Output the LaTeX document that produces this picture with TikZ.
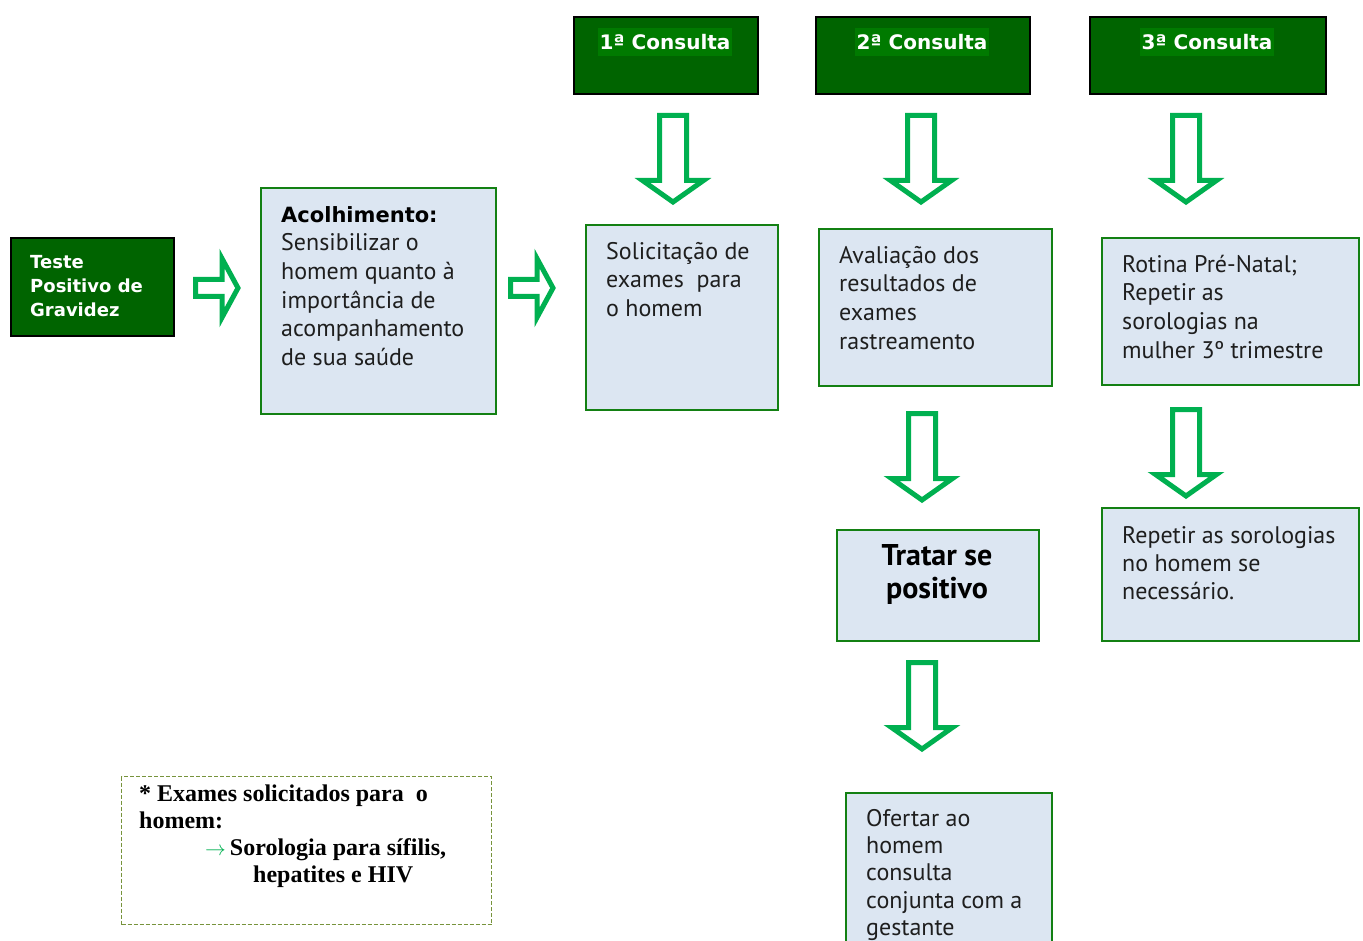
\documentclass[tikz,border=0pt]{standalone}
\usepackage{fontspec}
\setmainfont{PT Sans}
\newfontfamily\headfont{DejaVu Sans}
\newfontfamily\notefont{Liberation Serif}
\newcommand{\tstrut}{\rule{0pt}{22pt}}

\definecolor{darkgreen}{RGB}{0,100,0}
\definecolor{hlgreen}{RGB}{0,122,0}
\definecolor{boxblue}{RGB}{220,230,242}
\definecolor{boxline}{RGB}{19,128,19}
\definecolor{arrowgreen}{RGB}{0,176,80}
\definecolor{noteline}{RGB}{119,147,60}
\definecolor{txtgray}{RGB}{30,30,30}

\tikzset{
  darkbox/.style={draw=black, line width=2pt, fill=darkgreen, anchor=north west, inner sep=0},
  bluebox/.style={draw=boxline, line width=2pt, fill=boxblue, anchor=north west, inner sep=0},
  bodytext/.style={anchor=north west, inner sep=0, align=left, text=txtgray, font=\fontsize{24}{28.7}\selectfont},
  headtext/.style={text=white, fill=hlgreen, inner xsep=1.5pt, inner ysep=1pt, text height=21pt, text depth=5pt, font=\headfont\bfseries\fontsize{20}{24}\selectfont},
  arrowline/.style={draw=arrowgreen, fill=white, line width=5pt},
  darrow/.pic={\path[arrowline] (-13.5,2.5) -- (13.5,2.5) -- (13.5,67.5) -- (30.5,67.5) -- (0,89) -- (-30.5,67.5) -- (-13.5,67.5) -- cycle;},
  harrow/.pic={\path[arrowline] (2.5,-8.5) -- (29,-8.5) -- (29,-29.5) -- (45,0) -- (29,29.5) -- (29,8.5) -- (2.5,8.5) -- cycle;}
}

\begin{document}
\begin{tikzpicture}[x=1pt, y=-1pt]
\useasboundingbox (0,0) rectangle (1363,941);

% start
\node[darkbox, minimum width=163, minimum height=98] (teste) at (10,237) {};
\node[anchor=north west, inner sep=0, align=left, text=white, font=\headfont\bfseries\fontsize{18}{24}\selectfont] (teste-txt) at (30,246) {\tstrut Teste\\Positivo de\\Gravidez};

\pic at (193,288) {harrow};

\node[bluebox, minimum width=235, minimum height=226] (acolh) at (260,187) {};
\node[bodytext] (acolh-txt) at (281,200) {\tstrut{\headfont\bfseries\fontsize{21}{28.7}\selectfont\color{black}Acolhimento:}\\Sensibilizar o\\homem quanto à\\importância de\\acompanhamento\\de sua saúde};

\pic at (508,288) {harrow};

% consultas
\node[darkbox, minimum width=184, minimum height=77] (c1) at (573,16) {};
\node[headtext] (c1-txt) at (665,42) {1ª Consulta};
\node[darkbox, minimum width=214, minimum height=77] (c2) at (815,16) {};
\node[headtext] (c2-txt) at (922,42) {2ª Consulta};
\node[darkbox, minimum width=236, minimum height=77] (c3) at (1089,16) {};
\node[headtext] (c3-txt) at (1207,42) {3ª Consulta};

\pic at (673,113) {darrow};
\pic at (921,113) {darrow};
\pic at (1186,113) {darrow};

% 1a
\node[bluebox, minimum width=192, minimum height=185] (solic) at (585,224) {};
\node[bodytext] (solic-txt) at (606,237) {\tstrut Solicitação de\\exames\ \ para\\o homem};

% 2a
\node[bluebox, minimum width=233, minimum height=157] (aval) at (818,228) {};
\node[bodytext] (aval-txt) at (839,241) {\tstrut Avaliação dos\\resultados de\\exames\\rastreamento};

\pic at (922,411) {darrow};

\node[bluebox, minimum width=202, minimum height=111] (tratar) at (836,529) {};
\node[anchor=north, inner sep=0, align=center, font=\bfseries\fontsize{30}{33}\selectfont] (tratar-txt) at (937,543) {\tstrut Tratar se\\positivo};

\pic at (922,660) {darrow};

\node[bluebox, minimum width=206, minimum height=170] (ofertar) at (845,792) {};
\node[bodytext, font=\fontsize{24}{27.3}\selectfont] (ofertar-txt) at (866,804) {\tstrut Ofertar ao\\homem\\consulta\\conjunta com a\\gestante};

% 3a
\node[bluebox, minimum width=257, minimum height=147] (rotina) at (1101,237) {};
\node[bodytext] (rotina-txt) at (1122,250) {\tstrut Rotina Pré-Natal;\\Repetir as\\sorologias na\\mulher 3º trimestre};

\pic at (1186,407) {darrow};

\node[bluebox, minimum width=257, minimum height=133] (repetir) at (1101,507) {};
\node[bodytext, font=\fontsize{24}{28}\selectfont] (repetir-txt) at (1122,521) {\tstrut Repetir as sorologias\\no homem se\\necessário.};

% nota
\node[draw=noteline, line width=1.2pt, dash pattern=on 4pt off 2pt, anchor=north west, inner sep=0, minimum width=370, minimum height=148] (note) at (121,776) {};
\node[anchor=north west, inner sep=0, align=left, font=\notefont\bfseries\fontsize{24}{27}\selectfont] (note-txt) at (139,779) {\tstrut* Exames solicitados para\ \ o\\homem:\\\hspace*{66pt}{\color{arrowgreen}\fontsize{20}{20}\selectfont$\rightarrow$}\kern4pt Sorologia para sífilis,\\\hspace*{114pt}hepatites e HIV};

\end{tikzpicture}
\end{document}
